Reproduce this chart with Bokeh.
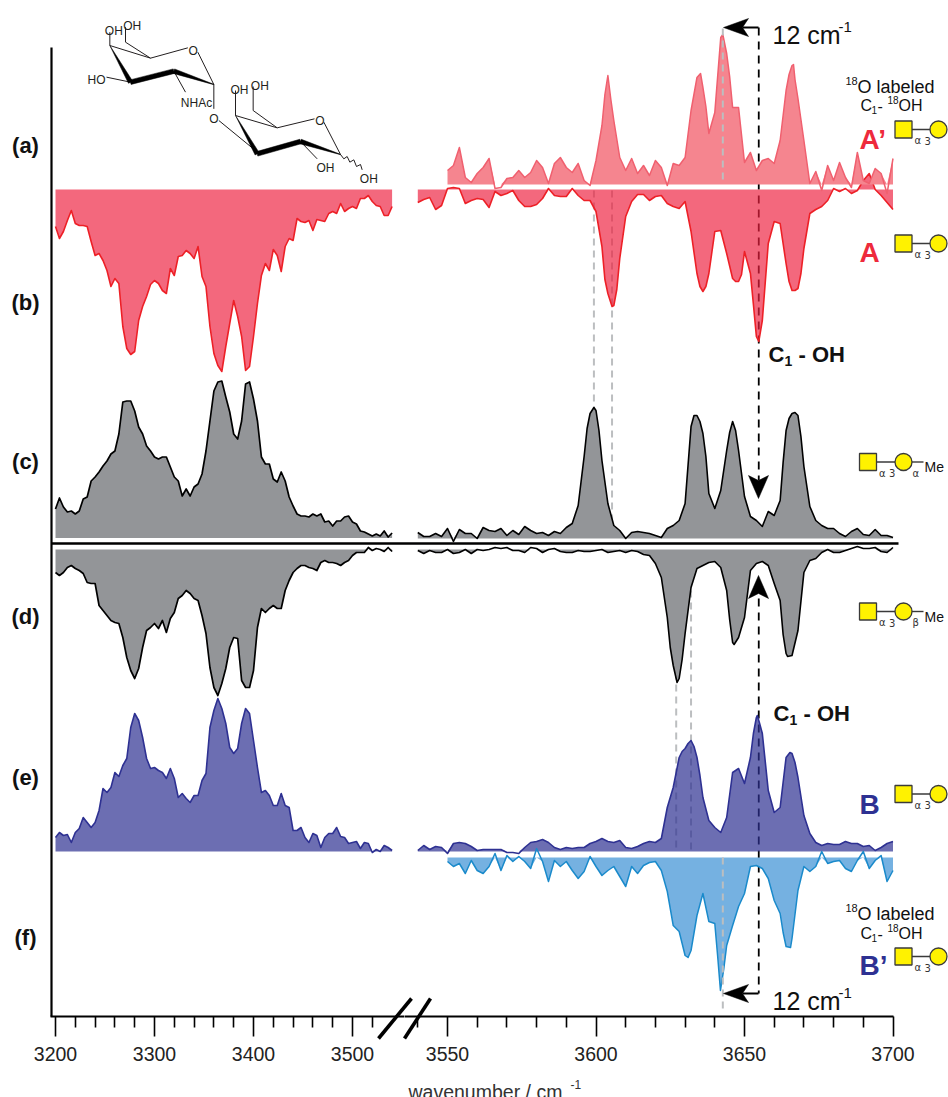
from bokeh.plotting import figure
from bokeh.layouts import row, column
from bokeh.models import Range1d, FixedTicker
from bokeh.core.properties import value
from bokeh.embed import file_html
from bokeh.resources import INLINE

# ---------- axes ----------
LEFT_TICKS = [3200, 3300, 3400, 3500]
LEFT_MINOR = [3220, 3240, 3260, 3280, 3320, 3340, 3360, 3380, 3420, 3440, 3460, 3480, 3520]
RIGHT_TICKS = [3550, 3600, 3650, 3700]
RIGHT_MINOR = [3540, 3560, 3570, 3580, 3590, 3610, 3620, 3630, 3640, 3660, 3670, 3680, 3690]

# ---------- wavenumber grids ----------
wn_left = list(range(3200, 3544, 4))
wn_right = list(range(3540, 3702, 2))
wn_iso = list(range(3550, 3702, 2))

# ---------- spectra: intensity ----------
b_left = [37,49,42,31,21,34,36,36,37,52,66,64,71,81,97,89,94,137,159,165,
          162,131,117,107,95,91,94,101,104,79,86,67,66,61,64,69,57,87,97,137,
          164,176,182,157,134,111,127,147,181,177,147,114,86,74,81,60,66,82,57,49,
          51,29,32,33,31,41,30,31,32,24,22,24,14,22,19,17,19,9,9,6,12,16,17,26,26,17]
c_left = [29,40,31,26,27,24,27,39,41,57,61,66,72,77,84,87,104,136,137,137,
          127,111,104,92,87,81,79,81,81,71,61,57,42,49,42,51,54,64,87,117,
          147,156,157,141,126,104,99,117,154,156,139,117,81,74,74,59,56,66,57,41,
          32,24,22,22,21,24,22,24,16,17,12,17,17,21,22,16,14,7,6,4,2,4,2,7,1,5]
d_left = [23,26,23,18,16,19,21,24,33,34,34,56,61,66,71,73,74,88,108,121,
          129,119,98,81,78,74,79,71,83,69,63,49,46,41,44,49,51,66,84,118,
          138,146,134,119,98,88,89,131,138,138,121,78,59,63,59,56,59,59,41,31,
          23,19,16,16,18,19,21,13,11,13,13,14,16,13,11,6,3,3,3,-2,1,-1,0,2,-2,2]
e_left = [14,19,16,17,9,19,23,34,29,24,29,41,63,59,64,79,75,86,93,124,
          138,131,114,93,83,84,81,79,73,83,73,54,58,53,49,56,56,71,78,124,
          141,153,143,128,104,98,103,128,143,138,111,84,59,61,56,46,46,58,46,44,
          21,21,24,14,9,18,16,4,14,18,18,24,15,14,8,9,10,3,9,8,-1,2,0,6,4,1]
b_right = [13,10,8,20,16,-1,-2,-1,14,11,9,10,18,2,6,4,1,11,17,17,
           15,9,-1,6,7,7,-1,6,11,11,22,57,104,116,69,27,12,5,5,11,
           7,6,14,17,19,12,42,84,102,84,42,41,64,89,92,62,84,147,131,54,
           32,34,74,101,99,59,24,20,17,11,-1,2,-1,4,1,-9,-16,0,6,13,20]
c_right = [6,2,2,5,2,10,-3,9,5,5,0,11,8,7,10,3,8,4,12,8,
           5,6,3,7,5,11,15,33,82,125,128,78,35,13,8,0,6,7,6,5,
           3,1,10,13,18,35,112,123,105,45,30,48,88,117,88,42,22,18,12,27,
           23,38,108,125,123,72,32,18,13,10,10,5,2,7,10,4,3,9,3,3,1]
d_right = [1,4,1,3,3,0,4,3,0,4,0,1,0,-2,-1,-2,1,1,3,-2,
           -1,3,0,-1,2,3,3,1,2,2,1,0,3,2,1,3,1,2,5,6,
           14,28,68,116,129,84,38,19,16,13,12,18,41,93,88,68,21,14,12,16,
           34,51,104,106,81,23,11,9,3,0,3,3,1,-1,-3,-1,-1,-2,2,3,-2]
e_right = [1,6,2,5,4,-2,8,9,8,5,1,2,2,2,2,-1,-1,-2,4,9,
           10,12,9,4,2,4,3,4,4,8,10,13,10,9,11,4,3,5,8,10,
           9,13,44,64,94,103,111,94,54,31,24,19,34,79,83,68,94,134,118,61,
           39,44,94,98,74,36,18,9,6,8,7,7,10,8,8,5,6,1,4,8,10]
a_iso = [14,19,37,7,2,11,17,26,-4,-3,6,7,14,7,12,24,17,1,21,27,
         17,12,21,4,-1,24,59,109,64,27,14,26,11,19,9,24,17,-1,21,19,
         27,74,107,97,51,72,147,131,77,77,22,32,14,24,26,21,44,94,119,86,
         44,1,13,-6,19,4,22,7,-3,32,4,1,16,11,-9,26]
f_iso = [4,9,6,16,3,13,16,9,-4,13,-2,4,-1,4,11,-9,4,24,3,9,
         4,13,21,14,-1,9,18,13,9,19,29,9,16,8,5,4,13,34,68,74,
         98,93,58,36,64,66,131,88,68,49,36,9,8,11,21,43,56,89,81,33,
         9,14,9,-6,6,4,3,11,14,3,-6,11,3,-2,24,13]

# extra readings between grid points, at the band tops and flanks
b_peaks = [(3603, 90), (3605.4, 117), (3607, 100), (3635, 97), (3637, 97), (3647, 92), (3649, 85),
           (3653, 115), (3654.8, 152), (3665, 92), (3667, 101), (3669, 84)]
c_peaks = [(3597, 110), (3599.3, 131), (3601, 108), (3633, 123), (3635, 117), (3637, 82),
           (3645, 106), (3647, 108), (3663, 76), (3665, 120), (3667, 126), (3669, 102)]
d_peaks = [(3625, 98), (3627.3, 133), (3629, 110), (3645, 70), (3646.5, 95),
           (3663, 85), (3664.5, 107)]
e_peaks = [(3629, 100), (3631, 108), (3633, 105), (3635, 76), (3653, 118), (3654.3, 136), (3655, 129),
           (3665.3, 99), (3667, 89)]
a_peaks = [(3603, 90), (3605, 85), (3635.2, 111), (3637, 78),
           (3642.7, 150), (3645, 108), (3665, 110), (3666.5, 120), (3667, 105)]
f_peaks = [(3641, 100), (3641.9, 133), (3643, 112), (3631, 100), (3663, 75), (3665.5, 90)]

def merged(grid, vals, extra):
    pts = dict(zip(grid, vals))
    pts.update(extra)
    keys = sorted(pts)
    return keys, [pts[k] for k in keys]

# page-pixel to wavenumber, for the two halves of the broken axis
def lw(px): return 3200 + (px - 55) / 0.99
def rw(px): return 3550 + (px - 447) / 2.97

FONT = "Liberation Sans"
SPLIT = 404
HEIGHT = 1097
WIDTH = 948

def make_fig(width, conv, lo, hi, ticks, minor, bound_lo, bound_hi):
    p = figure(width=width, height=HEIGHT, output_backend="svg", toolbar_location=None,
               x_range=Range1d(conv(lo), conv(hi)), y_range=Range1d(1016, 0),
               min_border_left=0, min_border_right=0, min_border_top=0, min_border_bottom=HEIGHT - 1016)
    p.outline_line_color = None
    p.grid.visible = False
    p.yaxis.visible = False
    ax = p.xaxis[0]
    ax.ticker = FixedTicker(ticks=ticks, minor_ticks=minor)
    ax.bounds = (bound_lo, bound_hi)
    ax.major_tick_in = 0
    ax.major_tick_out = 20
    ax.minor_tick_in = 0
    ax.minor_tick_out = 11
    ax.major_tick_line_width = 1.6
    ax.minor_tick_line_width = 1.6
    ax.axis_line_width = 1.8
    ax.major_tick_line_color = "black"
    ax.minor_tick_line_color = "black"
    ax.axis_line_color = "black"
    ax.major_label_text_font = FONT
    ax.major_label_text_font_size = "19.5px"
    ax.major_label_text_color = "#222222"
    ax.major_label_standoff = 10
    return p

pl = make_fig(SPLIT, lw, 0, SPLIT, LEFT_TICKS, LEFT_MINOR, lw(50), lw(SPLIT))
pr = make_fig(WIDTH - SPLIT, rw, SPLIT, WIDTH, RIGHT_TICKS, RIGHT_MINOR, rw(SPLIT), 3700)

# transparent sheet over both halves, for texts and marks that cross the axis strip
ov = figure(width=WIDTH, height=HEIGHT, output_backend="svg", toolbar_location=None,
            x_range=Range1d(0, WIDTH), y_range=Range1d(HEIGHT, 0),
            x_axis_location=None, y_axis_location=None,
            min_border_left=0, min_border_right=0, min_border_top=0, min_border_bottom=0,
            background_fill_alpha=0, border_fill_alpha=0, margin=(-HEIGHT, 0, 0, 0))
ov.outline_line_color = None
ov.grid.visible = False

def trace(p, xs, vals, base, sign, fill, alpha, line, lw_=1.6, clip=True):
    ys = [base - sign * v for v in vals]
    fy = [base - sign * max(v, 0) for v in vals] if clip else ys
    p.varea(xs, [base] * len(xs), fy, fill_color=fill, fill_alpha=alpha)
    p.line(xs, ys, line_color=line, line_width=lw_, line_join="round")

def txt(px, py, s, size, color="#111111", bold=False, align="left", font=FONT):
    ov.text([px], [py], text=[s], text_font=value(font), text_font_size=f"{size}px",
            text_color=color, text_align=align, text_baseline="alphabetic",
            text_font_style="bold" if bold else "normal")

GREY = "#BCBEC0"
# dashed guides that sit behind the spectra
for w, y0, y1 in [(3599.3, 190, 430), (3605.4, 190, 530), (3627, 660, 851), (3632, 590, 851)]:
    pr.segment([w], [y0], [w], [y1], line_color=GREY, line_width=2, line_dash="7 5")
C1_WN = 3654.8
pr.segment([C1_WN], [27], [C1_WN], [480], line_color="black", line_width=1.8, line_dash="8 6")
pr.segment([C1_WN], [598], [C1_WN], [993], line_color="black", line_width=1.8, line_dash="8 6")

RED, BLUE = "#ED1C2E", "#2E3192"
# left halves
trace(pl, wn_left, b_left, 189, -1, "#EE2040", 0.68, "#ED2027")
trace(pl, wn_left, c_left, 537.5, 1, "#939598", 1, "black", 1.7)
trace(pl, wn_left, d_left, 549, -1, "#939598", 1, "black", 1.7)
trace(pl, wn_left, e_left, 851, 1, BLUE, 0.7, BLUE)
# right halves
trace(pr, *merged(wn_right, c_right, c_peaks), 538, 1, "#939598", 1, "black", 1.6)
trace(pr, *merged(wn_right, d_right, d_peaks), 549, -1, "#939598", 1, "black", 1.6)
trace(pr, *merged(wn_right, b_right, b_peaks), 189, -1, "#EE2040", 0.68, "#ED2027", clip=False)
trace(pr, *merged(wn_right, e_right, e_peaks), 851, 1, BLUE, 0.7, BLUE)
trace(pr, *merged(wn_iso, a_iso, a_peaks), 184, 1, "#F5858F", 1, "#F0606F", 1.5)
trace(pr, *merged(wn_iso, f_iso, f_peaks), 857, -1, "#75B1E1", 1, "#1A8ACB", 1.5)
for y0, y1 in [(28, 184), (857, 1013)]:
    pr.segment([3642.7], [y0], [3642.7], [y1], line_color=GREY, line_width=2, line_dash="7 5")

# thick separator and left spine
ov.segment([51], [543], [898], [543], line_color="black", line_width=2.6)
ov.segment([51], [47], [51], [1016], line_color="black", line_width=2.2)

# axis break marks
for x0, x1 in [(378, 411), (404, 430)]:
    ov.segment([x0], [1038], [x1], [998], line_color="black", line_width=3.6)

# arrows
ov.segment([742], [27], [758], [27], line_color="black", line_width=2)
ov.segment([742], [993], [758], [993], line_color="black", line_width=2)
for xs, ys in [([723, 748, 742, 748], [27, 18, 27, 36]), ([723, 748, 742, 748], [993, 984, 993, 1002]),
               ([758, 748, 758, 768], [498, 475, 480, 475]), ([758, 748, 758, 768], [575, 598, 593, 598])]:
    ov.patch(xs, ys, fill_color="black", line_color="black", line_width=0.5)

# panel letters
for s, y in [("(a)", 145), ("(b)", 302), ("(c)", 461), ("(d)", 616), ("(e)", 777), ("(f)", 937)]:
    txt(25, y, s, 22, "#111111", True, "center")

# annotations, right side
for y in [34, 1000]:
    txt(772, y, "12 cm", 25)
    txt(838, y - 8, "-1", 15)
for y0, y1 in [(86, 105), (913, 933)]:
    txt(845, y0 - 6, "18", 11)
    txt(857, y0, "O labeled", 18)
    txt(860, y1, "C", 16)
    txt(871, y1 + 4, "1", 10)
    txt(877, y1, "-", 16)
    txt(887, y1 - 6, "18", 10)
    txt(898, y1, "OH", 16)
txt(859, 139, "A\u2019", 28, "#EE2A3C", True)
txt(859, 252, "A", 28, "#EE2A3C", True)
txt(859, 804, "B", 28, BLUE, True)
txt(859, 965, "B\u2019", 28, BLUE, True)
for x, y in [(768, 354), (773, 713)]:
    txt(x, y, "C", 22, "#111111", True)
    txt(x + 16, y + 6, "1", 14, "#111111", True)
    txt(x + 30, y, "- OH", 22, "#111111", True)
txt(408, 1091, "wavenumber / cm", 19.5, "#333333")
txt(570, 1084, "-1", 12, "#333333")

# glycan symbols
YEL, EDGE = "#FFF200", "#3A3A3A"
def glycan(sq, ci, y, tail=None):
    ov.segment([sq], [y], [ci], [y], line_color=EDGE, line_width=1.4)
    if tail:
        ov.segment([ci], [y], [ci + 20], [y], line_color=EDGE, line_width=1.4)
        txt(ci + 9, y + 11, tail, 10, "#333333", font="DejaVu Sans")
        txt(ci + 21, y + 5, "Me", 14)
    ov.scatter([sq], [y], marker="square", size=17, fill_color=YEL, line_color=EDGE, line_width=1.3)
    ov.scatter([ci], [y], marker="circle", size=17, fill_color=YEL, line_color=EDGE, line_width=1.3)
    txt(sq + 11, y + 11, "\u03b1", 10, "#333333", font="DejaVu Sans")
    txt(sq + 21, y + 11, "3", 10, "#333333", font="DejaVu Sans")
glycan(903, 938, 129)
glycan(903, 938, 243)
glycan(867.5, 903, 461.5, "\u03b1")
glycan(867.5, 903, 611, "\u03b2")
glycan(903, 938, 793.5)
glycan(903, 938, 956)

# disaccharide drawing (coordinates of the drawing, in 1/3 px from its corner)
def sx(x): return 70 + x / 3
def sy(y): return 10 + y / 3
THIN = [((240,143),(118,105)), ((240,143),(352,112)), ((382,125),(430,222)), ((118,105),(118,65)),
        ((240,143),(165,95)), ((165,95),(165,50)), ((180,215),(108,200)), ((310,182),(345,245)),
        ((430,222),(430,295)), ((445,330),(545,412)),
        ((620,352),(495,315)), ((620,352),(732,325)), ((760,335),(810,432)), ((495,315),(495,240)),
        ((620,352),(548,300)), ((548,300),(548,228)), ((690,393),(740,445))]
ov.multi_line([[sx(a[0]), sx(b[0])] for a, b in THIN], [[sy(a[1]), sy(b[1])] for a, b in THIN],
              line_color="#231F20", line_width=1)
WAVY = [(810,432),(820,445),(830,438),(838,455),(850,448),(858,468),(870,462),(875,478)]
ov.line([sx(x) for x, y in WAVY], [sy(y) for x, y in WAVY], line_color="#231F20", line_width=1)
WEDGES = [((118,105),(180,215),0,14), ((180,215),(310,182),14,14), ((310,182),(430,222),14,1),
          ((495,315),(560,430),0,14), ((560,430),(690,393),14,14), ((690,393),(810,432),14,1)]
for a, b, w0, w1 in WEDGES:
    dx, dy = b[0] - a[0], b[1] - a[1]
    n = (dx * dx + dy * dy) ** 0.5
    ux, uy = -dy / n / 2, dx / n / 2
    px = [a[0] + ux * w0, b[0] + ux * w1, b[0] - ux * w1, a[0] - ux * w0]
    py = [a[1] + uy * w0, b[1] + uy * w1, b[1] - uy * w1, a[1] - uy * w0]
    ov.patch([sx(v) for v in px], [sy(v) for v in py], fill_color="black", line_color="black", line_width=0.5)
for s, x, y in [("OH",130,47), ("OH",185,32), ("HO",78,195), ("NHAc",378,263), ("O",368,107), ("O",430,313),
                ("OH",507,225), ("OH",568,213), ("O",748,318), ("OH",765,458), ("OH",895,493)]:
    txt(sx(x), sy(y) + 4.5, s, 12, "#231F20", False, "center")

layout = column(row(pl, pr, spacing=0), ov, spacing=0)
open("out.html", "w").write(file_html(layout, INLINE))
